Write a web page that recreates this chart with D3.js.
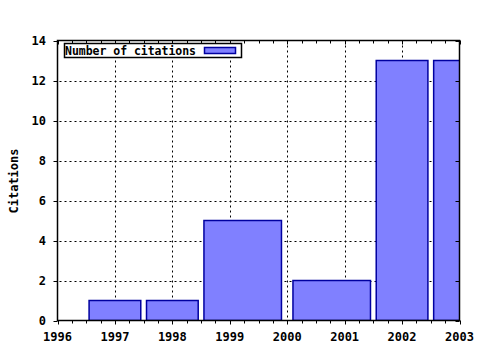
<!DOCTYPE html>
<html>
<head>
<meta charset="utf-8">
<script src="https://d3js.org/d3.v7.min.js"></script>
<style>
    body { margin: 0; background: #fff; }
    text { font-family: "DejaVu Sans Mono", monospace; font-weight: bold; font-size: 12px; fill: #000; }
</style>
</head>
<body>
<div id="main"></div>
<script>
const years = [1997, 1998, 1999, 2001, 2002, 2003];
const citations = [1, 1, 5, 2, 13, 13];
const xTicks = [1996, 1997, 1998, 1999, 2000, 2001, 2002, 2003];
const yTicks = [0, 2, 4, 6, 8, 10, 12, 14];
const seriesName = "Number of citations";
const boxWidth = 0.9; // relative, like gnuplot boxes

function boxExtent(i) {
    // each side reaches boxWidth of the way to halfway to its neighbour
    const x = years[i];
    const prev = i > 0 ? years[i - 1] : x - (years[i + 1] - x);
    const next = i < years.length - 1 ? years[i + 1] : x + (x - years[i - 1]);
    return [x - (x - prev) / 2 * boxWidth, x + (next - x) / 2 * boxWidth];
}

function createChart() {
    const width = 480, height = 350;
    const left = 57.5, right = 459.5, top = 40.5, bottom = 320.5;

    const svg = d3.select("#main").append("svg")
        .attr("width", width)
        .attr("height", height);

    const x = d3.scaleLinear().domain([1996, 2003]).range([left, right]);
    const y = d3.scaleLinear().domain([0, 14]).range([bottom, top]);

    svg.append("clipPath").attr("id", "plot")
        .append("rect")
        .attr("x", left).attr("y", top)
        .attr("width", right - left).attr("height", bottom - top);

    // grid
    const grid = svg.append("g")
        .attr("stroke", "#000")
        .attr("stroke-width", 1)
        .attr("stroke-dasharray", "2,3");
    grid.selectAll(".gx")
        .data(xTicks.slice(1, -1))
        .join("line")
        .attr("x1", d => Math.round(x(d)) + 0.5).attr("x2", d => Math.round(x(d)) + 0.5)
        .attr("y1", top).attr("y2", bottom);
    grid.selectAll(".gy")
        .data(yTicks.slice(1, -1))
        .join("line")
        .attr("y1", d => Math.round(y(d)) + 0.5).attr("y2", d => Math.round(y(d)) + 0.5)
        .attr("x1", left - 3).attr("x2", right);

    // bars
    svg.append("g")
        .attr("clip-path", "url(#plot)")
        .selectAll("rect")
        .data(years)
        .join("rect")
        .attr("x", (d, i) => x(boxExtent(i)[0]))
        .attr("width", (d, i) => x(boxExtent(i)[1]) - x(boxExtent(i)[0]))
        .attr("y", (d, i) => y(citations[i]))
        .attr("height", (d, i) => y(0) - y(citations[i]))
        .attr("fill", "#8080ff")
        .attr("stroke", "#0000a0")
        .attr("stroke-width", 1.5);

    // border
    svg.append("rect")
        .attr("x", left).attr("y", top)
        .attr("width", right - left).attr("height", bottom - top)
        .attr("fill", "none")
        .attr("stroke", "#000")
        .attr("stroke-width", 1.5);

    // x axis ticks, bottom outward and top inward
    const minor = d3.range(0, 29).map(k => 1996 + k * 0.25);
    const ticks = svg.append("g").attr("stroke", "#000").attr("stroke-width", 1);
    ticks.selectAll(".tb")
        .data(minor)
        .join("line")
        .attr("x1", d => Math.round(x(d)) + 0.5).attr("x2", d => Math.round(x(d)) + 0.5)
        .attr("y1", bottom).attr("y2", d => bottom + (Number.isInteger(d) ? 4 : 3));
    ticks.selectAll(".tt")
        .data(minor)
        .join("line")
        .attr("x1", d => Math.round(x(d)) + 0.5).attr("x2", d => Math.round(x(d)) + 0.5)
        .attr("y1", top).attr("y2", d => top + (Number.isInteger(d) ? 4 : 3));
    ticks.selectAll(".ty")
        .data(yTicks)
        .join("line")
        .attr("y1", d => Math.round(y(d)) + 0.5).attr("y2", d => Math.round(y(d)) + 0.5)
        .attr("x1", left - 4).attr("x2", left);
    ticks.selectAll(".tr")
        .data(yTicks)
        .join("line")
        .attr("y1", d => Math.round(y(d)) + 0.5).attr("y2", d => Math.round(y(d)) + 0.5)
        .attr("x1", right - 4).attr("x2", right);

    // tick labels
    svg.selectAll(".xl")
        .data(xTicks)
        .join("text")
        .attr("x", d => x(d))
        .attr("y", 341)
        .attr("text-anchor", "middle")
        .text(d => d);
    svg.selectAll(".yl")
        .data(yTicks)
        .join("text")
        .attr("x", 46)
        .attr("y", d => y(d) + 4.5)
        .attr("text-anchor", "end")
        .text(d => d);

    svg.append("text")
        .attr("transform", "translate(18,181) rotate(-90)")
        .attr("text-anchor", "middle")
        .text("Citations");

    // legend
    const legend = svg.append("g");
    legend.append("rect")
        .attr("x", 64.5).attr("y", 43.5)
        .attr("width", 177).attr("height", 14)
        .attr("fill", "#fff")
        .attr("stroke", "#000")
        .attr("stroke-width", 1.5);
    legend.append("text")
        .attr("x", 65)
        .attr("y", 55)
        .style("font-size", "11.5px")
        .attr("textLength", 131)
        .text(seriesName);
    legend.append("rect")
        .attr("x", 204.5).attr("y", 47.5)
        .attr("width", 31).attr("height", 6)
        .attr("fill", "#8080ff")
        .attr("stroke", "#0000a0")
        .attr("stroke-width", 1.5);
}

document.addEventListener("DOMContentLoaded", createChart);
</script>
</body>
</html>
